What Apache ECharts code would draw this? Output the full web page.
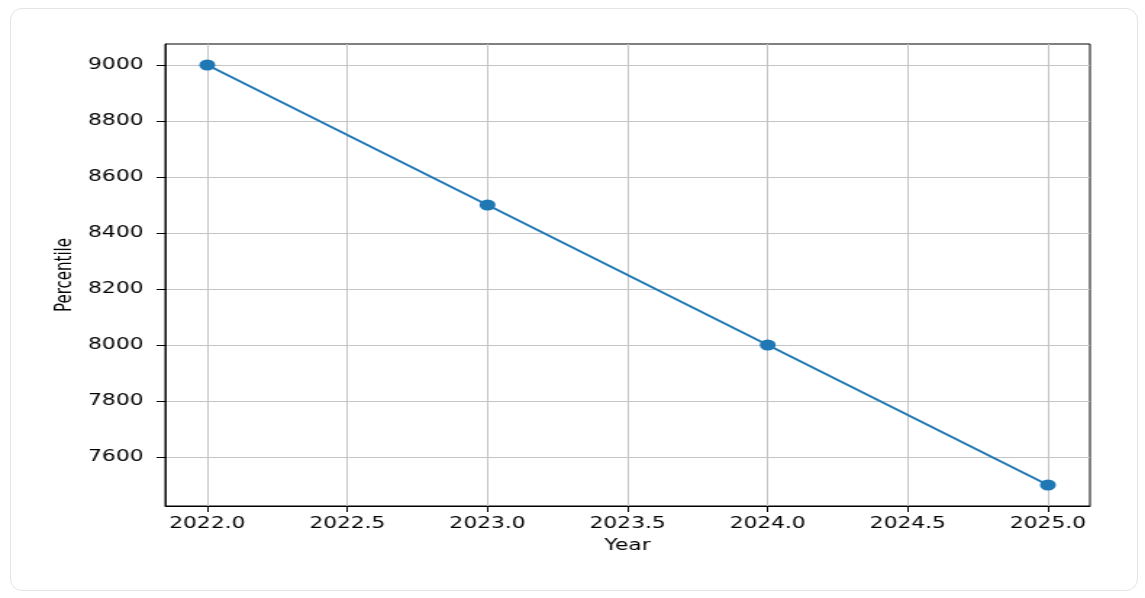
<!DOCTYPE html>
<html>
<head>
<meta charset="utf-8">
<script src="https://cdn.jsdelivr.net/npm/echarts@6/dist/echarts.min.js"></script>
<style>
  html, body { margin: 0; padding: 0; background: #fff; width: 1145px; height: 598px; overflow: hidden; }
  #card { position: absolute; left: 10px; top: 8px; width: 1126px; height: 581px; border: 1.5px solid #e4e4e4; border-radius: 12px; }
  #wrap { position: absolute; left: 0; top: 0; width: 790px; height: 598px; transform: scaleX(1.4494); transform-origin: 0 0; }
  #chart { width: 790px; height: 598px; }
</style>
</head>
<body>
<div id="card"></div>
<div id="wrap"><div id="chart"></div></div>
<script>
const years = [2022, 2023, 2024, 2025];
const percentiles = [9000, 8500, 8000, 7500];
const xTicks = [2022.0, 2022.5, 2023.0, 2023.5, 2024.0, 2024.5, 2025.0];
const yTicks = [7600, 7800, 8000, 8200, 8400, 8600, 8800, 9000];

const chart = echarts.init(document.getElementById('chart'), null, { renderer: 'canvas' });
const font = 'DejaVu Sans';
chart.setOption({
  animation: false,
  backgroundColor: 'transparent',
  grid: { left: 114, right: 38, top: 44, bottom: 92, show: true, borderColor: '#000', borderWidth: 1, backgroundColor: 'transparent' },
  xAxis: {
    type: 'value',
    min: 2021.85, max: 2025.15,
    name: 'Year', nameLocation: 'middle', nameGap: 33, nameMoveOverlap: false,
    nameTextStyle: { fontFamily: font, fontSize: 15, color: '#000' },
    axisLine: { show: true, onZero: false, lineStyle: { color: '#000', width: 1 } },
    axisTick: { show: true, length: 6, lineStyle: { color: '#000' }, customValues: xTicks },
    axisLabel: { customValues: xTicks, formatter: v => Number(v).toFixed(1), fontFamily: font, fontSize: 15, color: '#000', margin: 11 },
    splitLine: { show: true, lineStyle: { color: '#c4c4c4', width: 1 } }
  },
  yAxis: {
    type: 'value',
    min: 7425, max: 9075,
    name: 'Percentile', nameLocation: 'middle', nameGap: 61, nameRotate: 90, nameMoveOverlap: false,
    nameTextStyle: { fontFamily: font, fontSize: 15, color: '#000' },
    axisLine: { show: true, onZero: false, lineStyle: { color: '#000', width: 1 } },
    axisTick: { show: true, length: 6, lineStyle: { color: '#000' }, customValues: yTicks },
    axisLabel: { customValues: yTicks, formatter: v => String(v), fontFamily: font, fontSize: 15, color: '#000', margin: 15 },
    splitLine: { show: true, lineStyle: { color: '#c4c4c4', width: 1 } }
  },
  series: [{
    type: 'line',
    data: years.map((y, i) => [y, percentiles[i]]),
    symbol: 'circle',
    symbolSize: 11,
    showAllSymbol: true,
    lineStyle: { color: '#1f77b4', width: 2 },
    itemStyle: { color: '#1f77b4' },
    z: 5
  }]
});
</script>
</body>
</html>
